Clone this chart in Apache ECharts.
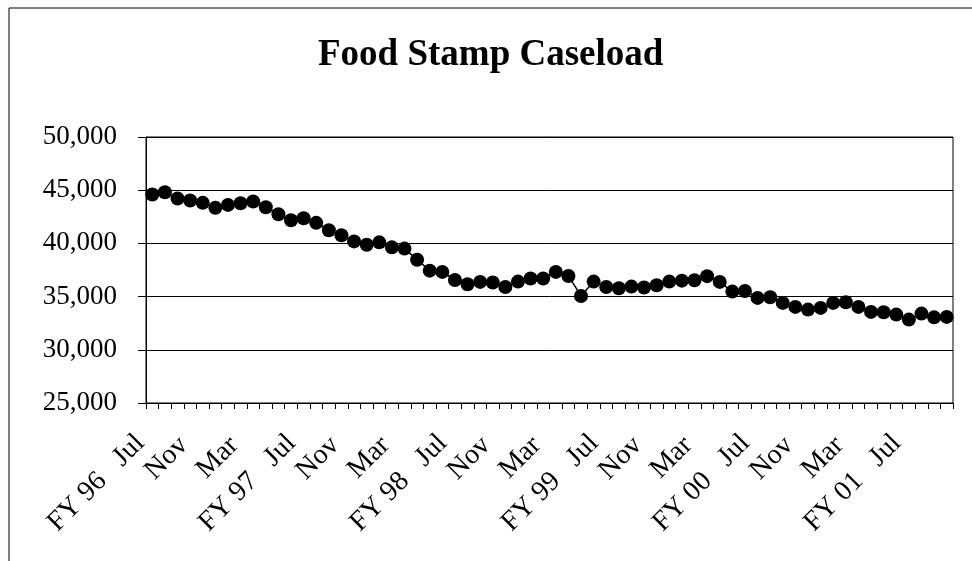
<!DOCTYPE html>
<html>
<head>
<meta charset="utf-8">
<script src="https://cdn.jsdelivr.net/npm/echarts@6/dist/echarts.min.js"></script>
<style>
html,body{margin:0;padding:0;background:#fff;}
#chart{width:972px;height:561px;}
</style>
</head>
<body>
<div id="chart"></div>
<script>
// Months Jul 1996 .. Oct 2001
var monthNames = ['Jul','Aug','Sep','Oct','Nov','Dec','Jan','Feb','Mar','Apr','May','Jun'];
var fiscalYears = ['FY 96','FY 97','FY 98','FY 99','FY 00','FY 01'];
var monthCount = 64;
var caseload = [
  44600, 44810, 44220, 44030, 43810, 43340, 43620, 43780, 43940, 43400, 42740, 42170,
  42360, 41930, 41230, 40760, 40190, 39880, 40100, 39630, 39510, 38470, 37440, 37320,
  36560, 36160, 36380, 36320, 35900, 36410, 36700, 36700, 37320, 36940, 35060, 36410,
  35900, 35780, 35940, 35850, 36060, 36410, 36500, 36540, 36920, 36380, 35470, 35530,
  34880, 34940, 34410, 34030, 33780, 33940, 34410, 34470, 34030, 33560, 33530, 33310,
  32840, 33400, 33050, 33090
];
var yTicks = [25000, 30000, 35000, 40000, 45000, 50000];

var categories = [];
for (var i = 0; i < monthCount; i++) {
  var m = monthNames[i % 12];
  if (i % 12 === 0) {
    categories.push(fiscalYears[i / 12] + '   ' + m);
  } else {
    categories.push(m);
  }
}

var FONT = 'Liberation Serif';
function baseLabel() {
  return {rotate: 45, fontFamily: FONT, fontSize: 28, color: '#000'};
}
var fyLabel = baseLabel();
fyLabel.interval = function (idx) { return idx % 12 === 0; };
fyLabel.margin = 24;
fyLabel.padding = [0, 17, 0, 0];
var monthLabel = baseLabel();
monthLabel.interval = function (idx) { return idx % 4 === 0 && idx % 12 !== 0; };
monthLabel.margin = 19;
monthLabel.padding = [0, 27, 0, 0];

var chart = echarts.init(document.getElementById('chart'), null, {renderer: 'canvas'});
chart.setOption({
  animation: false,
  backgroundColor: '#fff',
  title: {
    text: 'Food Stamp Caseload',
    left: 313,
    top: 32,
    textStyle: {fontFamily: FONT, fontWeight: 'bold', fontSize: 37, color: '#000'}
  },
  graphic: [{
    type: 'rect',
    z: -1,
    shape: {x: 9, y: 8, width: 1000, height: 1000},
    style: {fill: 'none', stroke: '#000', lineWidth: 1}
  }],
  grid: {
    left: 146, right: 19, top: 137, bottom: 158,
    outerBoundsMode: 'none',
    show: true, borderColor: '#000', borderWidth: 1, backgroundColor: 'transparent'
  },
  xAxis: [{
    type: 'category',
    data: categories,
    boundaryGap: true,
    axisLine: {show: true, lineStyle: {color: '#000', width: 1}},
    axisTick: {show: true, interval: 0, length: 6, inside: false, lineStyle: {color: '#000'}},
    axisLabel: fyLabel,
    splitLine: {show: false}
  }, {
    type: 'category',
    position: 'bottom',
    data: categories,
    boundaryGap: true,
    axisLine: {show: false},
    axisTick: {show: false},
    axisLabel: monthLabel,
    splitLine: {show: false}
  }],
  yAxis: {
    type: 'value',
    min: yTicks[0],
    max: yTicks[yTicks.length - 1],
    interval: 5000,
    axisLine: {show: true, lineStyle: {color: '#000', width: 1}},
    axisTick: {show: true, length: 8, inside: false, lineStyle: {color: '#000'}},
    axisLabel: {
      margin: 29,
      fontFamily: FONT,
      fontSize: 27,
      color: '#000',
      formatter: function (v) { return v.toLocaleString('en-US'); }
    },
    splitLine: {show: true, lineStyle: {color: '#000', width: 1}}
  },
  series: [{
    type: 'line',
    xAxisIndex: 0,
    data: caseload,
    symbol: 'circle',
    symbolSize: 14,
    showSymbol: true,
    showAllSymbol: true,
    itemStyle: {color: '#000'},
    lineStyle: {color: '#000', width: 1.5}
  }]
});
</script>
</body>
</html>
